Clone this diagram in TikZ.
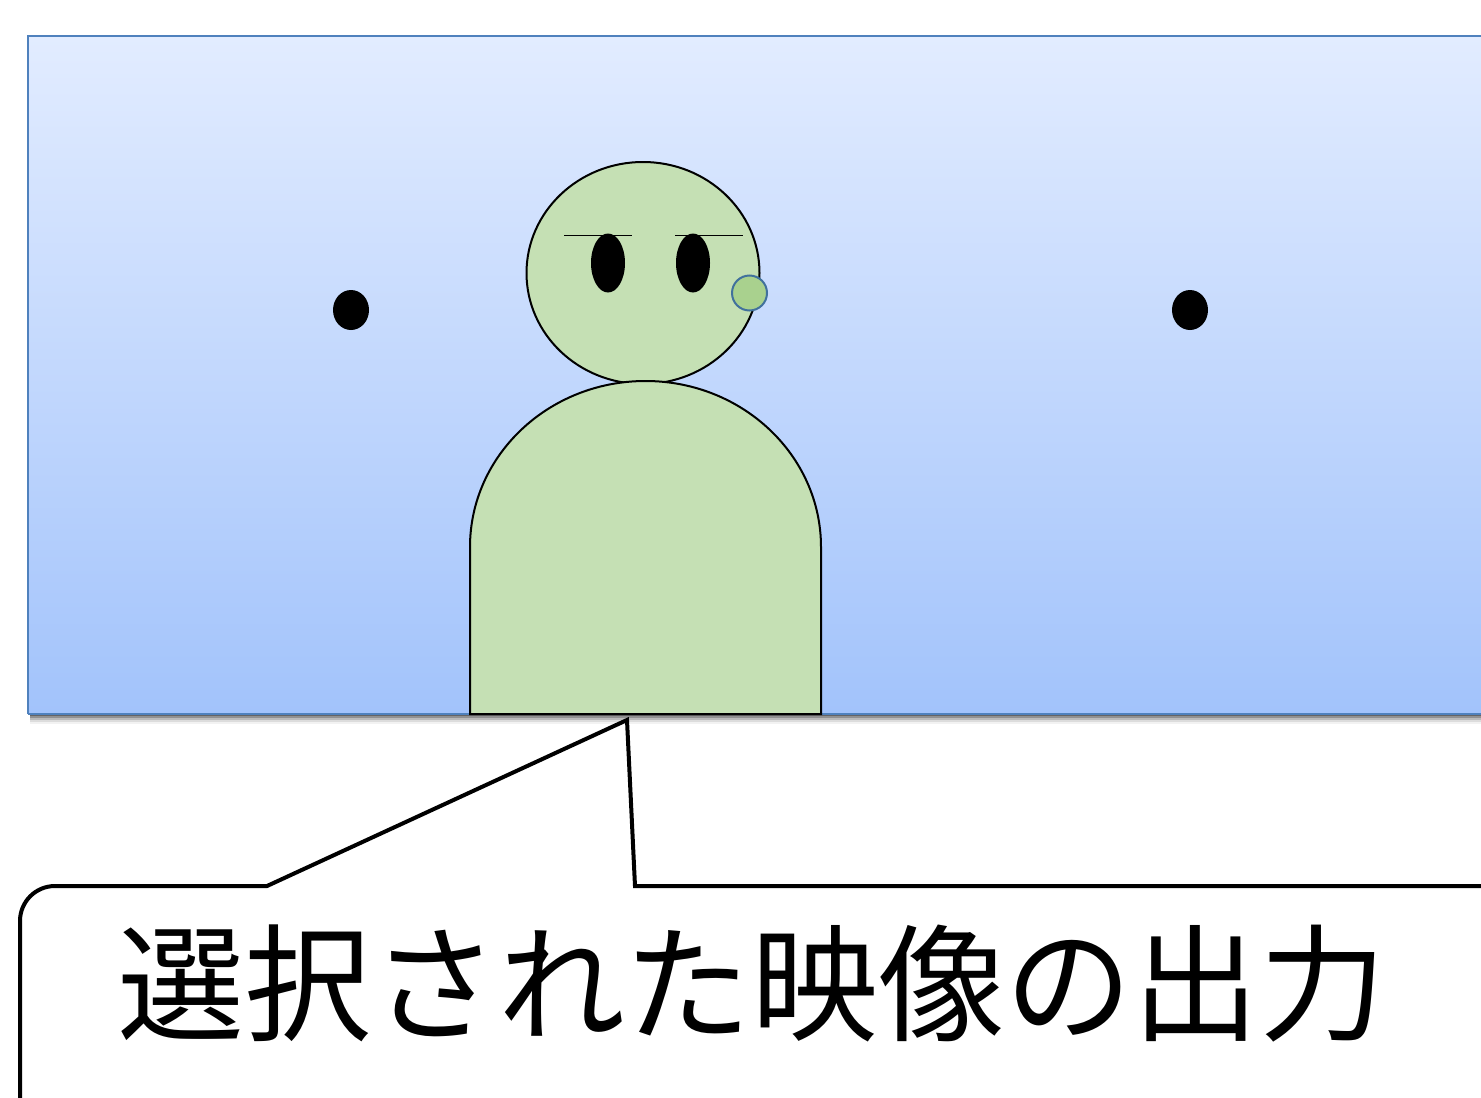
\documentclass[tikz,border=0pt]{standalone}
\usepackage{fontspec}
\newfontfamily\cjk{Noto Sans CJK JP}
\definecolor{skytop}{RGB}{226,236,255}
\definecolor{skybot}{RGB}{162,195,251}
\definecolor{frameblue}{RGB}{79,129,189}
\definecolor{skin}{RGB}{197,224,180}
\definecolor{earfill}{RGB}{169,209,142}
\definecolor{earline}{RGB}{65,113,156}
\tikzset{
  figure/.style={draw=black, line width=2pt, fill=skin},
  pupil/.style={fill=black},
  brow/.style={draw=black, line width=1.3pt},
  balloon/.style={draw=black, line width=4pt, fill=white, line join=miter},
}
\begin{document}
\begin{tikzpicture}[x=1pt,y=-1pt]
\useasboundingbox (0,0) rectangle (1481,1098);
\fill[white] (0,0) rectangle (1481,1098);

% soft shadow under the screen
\foreach \d/\o in {2/0.30,4/0.22,6/0.15,8/0.09,10/0.05}
  \fill[black,opacity=\o] (30,714) rectangle (1500,714+\d);

% screen with vertical gradient
\shade[top color=skytop, bottom color=skybot] (28,36) rectangle (1500,714);
\draw[frameblue, line width=1.5pt] (28,714) -- (28,36) -- (1500,36);
\draw[frameblue, line width=1.5pt] (28,714) -- (1500,714);

% side dots
\fill[black] (351,310) ellipse [x radius=18pt, y radius=20pt];
\fill[black] (1190,310) ellipse [x radius=18pt, y radius=20pt];

% head
\draw[figure] (643,273) ellipse [x radius=116.5pt, y radius=111pt];
% body
\draw[figure] (470,714) -- (470,547) arc[start angle=180, end angle=0, x radius=175.5pt, y radius=166pt] -- (821,714) -- cycle;

% eyes and brows
\fill[pupil] (608,263) ellipse [x radius=17pt, y radius=29.5pt];
\fill[pupil] (693,263) ellipse [x radius=17pt, y radius=29.5pt];
\draw[brow] (564,235.5) -- (632,235.5);
\draw[brow] (675,235.5) -- (743,235.5);

% ear
\draw[earline, fill=earfill, line width=2pt] (749.5,293) circle [radius=17.5pt];

% speech balloon
\coordinate (tip) at (627,720);
\draw[balloon] (635,886) -- (1500,886) -- (1500,1140) -- (20,1140) -- (20,921)
  arc[start angle=180, end angle=90, radius=35pt] -- (267,886) -- (tip) -- cycle;

\node[inner sep=0pt, font=\cjk\fontsize{127}{150}\selectfont] (caption) at (752,983) {選択された映像の出力};
\end{tikzpicture}
\end{document}
